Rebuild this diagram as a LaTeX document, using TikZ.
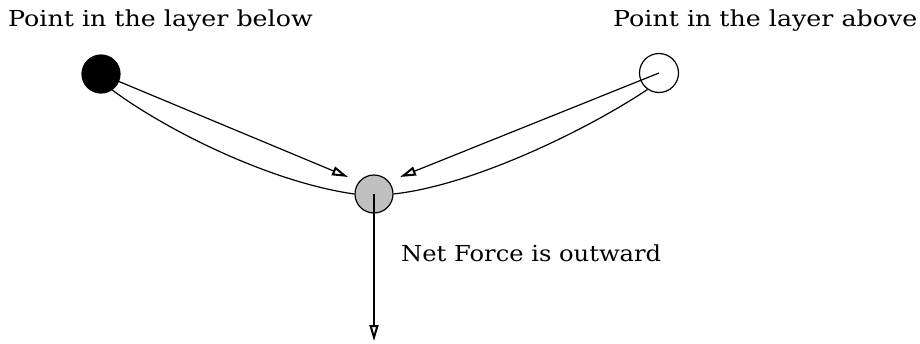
\documentclass[tikz,border=0pt]{standalone}
\usepackage{fontspec}
\setmainfont{DejaVu Serif}[FakeStretch=1.15]
\newfontfamily\narrowserif{DejaVu Serif}[FakeStretch=1.10]
\usetikzlibrary{arrows.meta}
\definecolor{ptgray}{RGB}{192,192,192}
\tikzset{
  px/.style={x=1pt,y=-1pt},
  pt/.style={circle,draw=black,line width=1.2pt,minimum size=38pt,inner sep=0pt},
  lbl/.style={font=\fontsize{22}{26}\selectfont,anchor=base west,inner sep=0pt},
  force/.style={line width=1.2pt,-{Triangle[open,length=16pt,width=9pt,line width=2pt]}},
  link/.style={line width=1.2pt}
}
\begin{document}
\begin{tikzpicture}[px]
\useasboundingbox (0,0) rectangle (920,343);
\node[pt,fill=black] (below) at (101,74) {};
\node[pt,fill=white,minimum size=39pt] (above) at (659,73) {};
\node[pt,fill=ptgray] (mid) at (374,194) {};
\coordinate (down) at (374,341);
\coordinate (lt) at (348,177);
\coordinate (rt) at (400,177);
\draw[force] (below.center) -- (lt);
\draw[force] (above.center) -- (rt);
\draw[link] (below.-55) .. controls (172,134) and (275,183) .. (mid.west);
\draw[link] (above.235) .. controls (590,128) and (475,185) .. (mid.east);
\draw[force] (mid.center) -- (down);
\node[lbl] (tl) at (8,26) {Point in the layer below};
\node[lbl] (tr) at (613,26) {Point in the layer above};
\node[lbl,font=\narrowserif\fontsize{22}{26}\selectfont] (nf) at (401,261) {Net Force is outward};
\end{tikzpicture}
\end{document}
